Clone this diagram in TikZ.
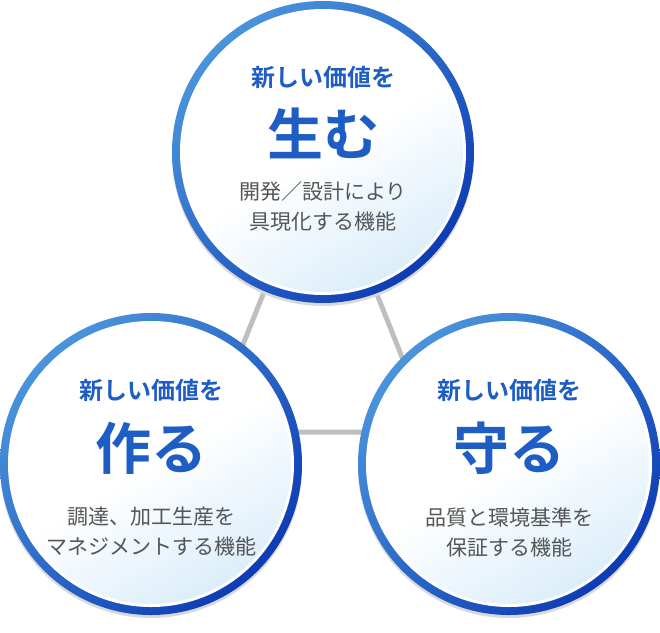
\documentclass[tikz,border=0pt]{standalone}
\usepackage{fontspec}
\newfontfamily\jp{Noto Sans CJK JP}
\newfontfamily\jpb{Noto Sans CJK JP Bold}
\definecolor{tblue}{HTML}{1E5EC4}
\definecolor{tgray}{HTML}{555555}
\definecolor{ringA}{HTML}{4A94DC}
\definecolor{ringB}{HTML}{0D3CB4}
\definecolor{inblue}{HTML}{DCEEFA}
\tikzset{
 small/.style={text=tblue,font=\jpb\fontsize{24}{24}\selectfont},
 big/.style={text=tblue,font=\jpb\fontsize{56}{56}\selectfont},
 desc/.style={text=tgray,font=\jp\fontsize{21}{30}\selectfont,align=center},
}
\newcommand\mycircle[2]{%
 \fill[black!15] (#1,#2+3) circle (151);
 \shade[shading=axis,left color=ringA,right color=ringB,shading angle=45] (#1,#2) circle (151);
 \fill[white] (#1,#2) circle (143);
 \shade[shading=axis,top color=white,bottom color=inblue,middle color=white,shading angle=30] (#1,#2) circle (140);
}
\begin{document}
\begin{tikzpicture}[x=1pt,y=-1pt]
\useasboundingbox (0,0) rectangle (660,632);
\coordinate (t) at (320,152);
\coordinate (l) at (208,432);
\coordinate (r) at (432,432);
\draw[line width=5pt,black!25] (t) -- (l) -- (r) -- cycle;
\mycircle{323}{152}
\mycircle{151}{464}
\mycircle{509}{464}
\node[small] (a1) at (323,77) {新しい価値を};
\node[big] (a2) at (323,133) {生む};
\node[desc] (a3) at (323,207) {開発／設計により\\具現化する機能};
\node[small] (b1) at (151,390) {新しい価値を};
\node[big] (b2) at (151,448) {作る};
\node[desc] (b3) at (151,532) {調達、加工生産を\\マネジメントする機能};
\node[small] (c1) at (509,390) {新しい価値を};
\node[big] (c2) at (509,448) {守る};
\node[desc] (c3) at (509,532) {品質と環境基準を\\保証する機能};
\end{tikzpicture}
\end{document}
